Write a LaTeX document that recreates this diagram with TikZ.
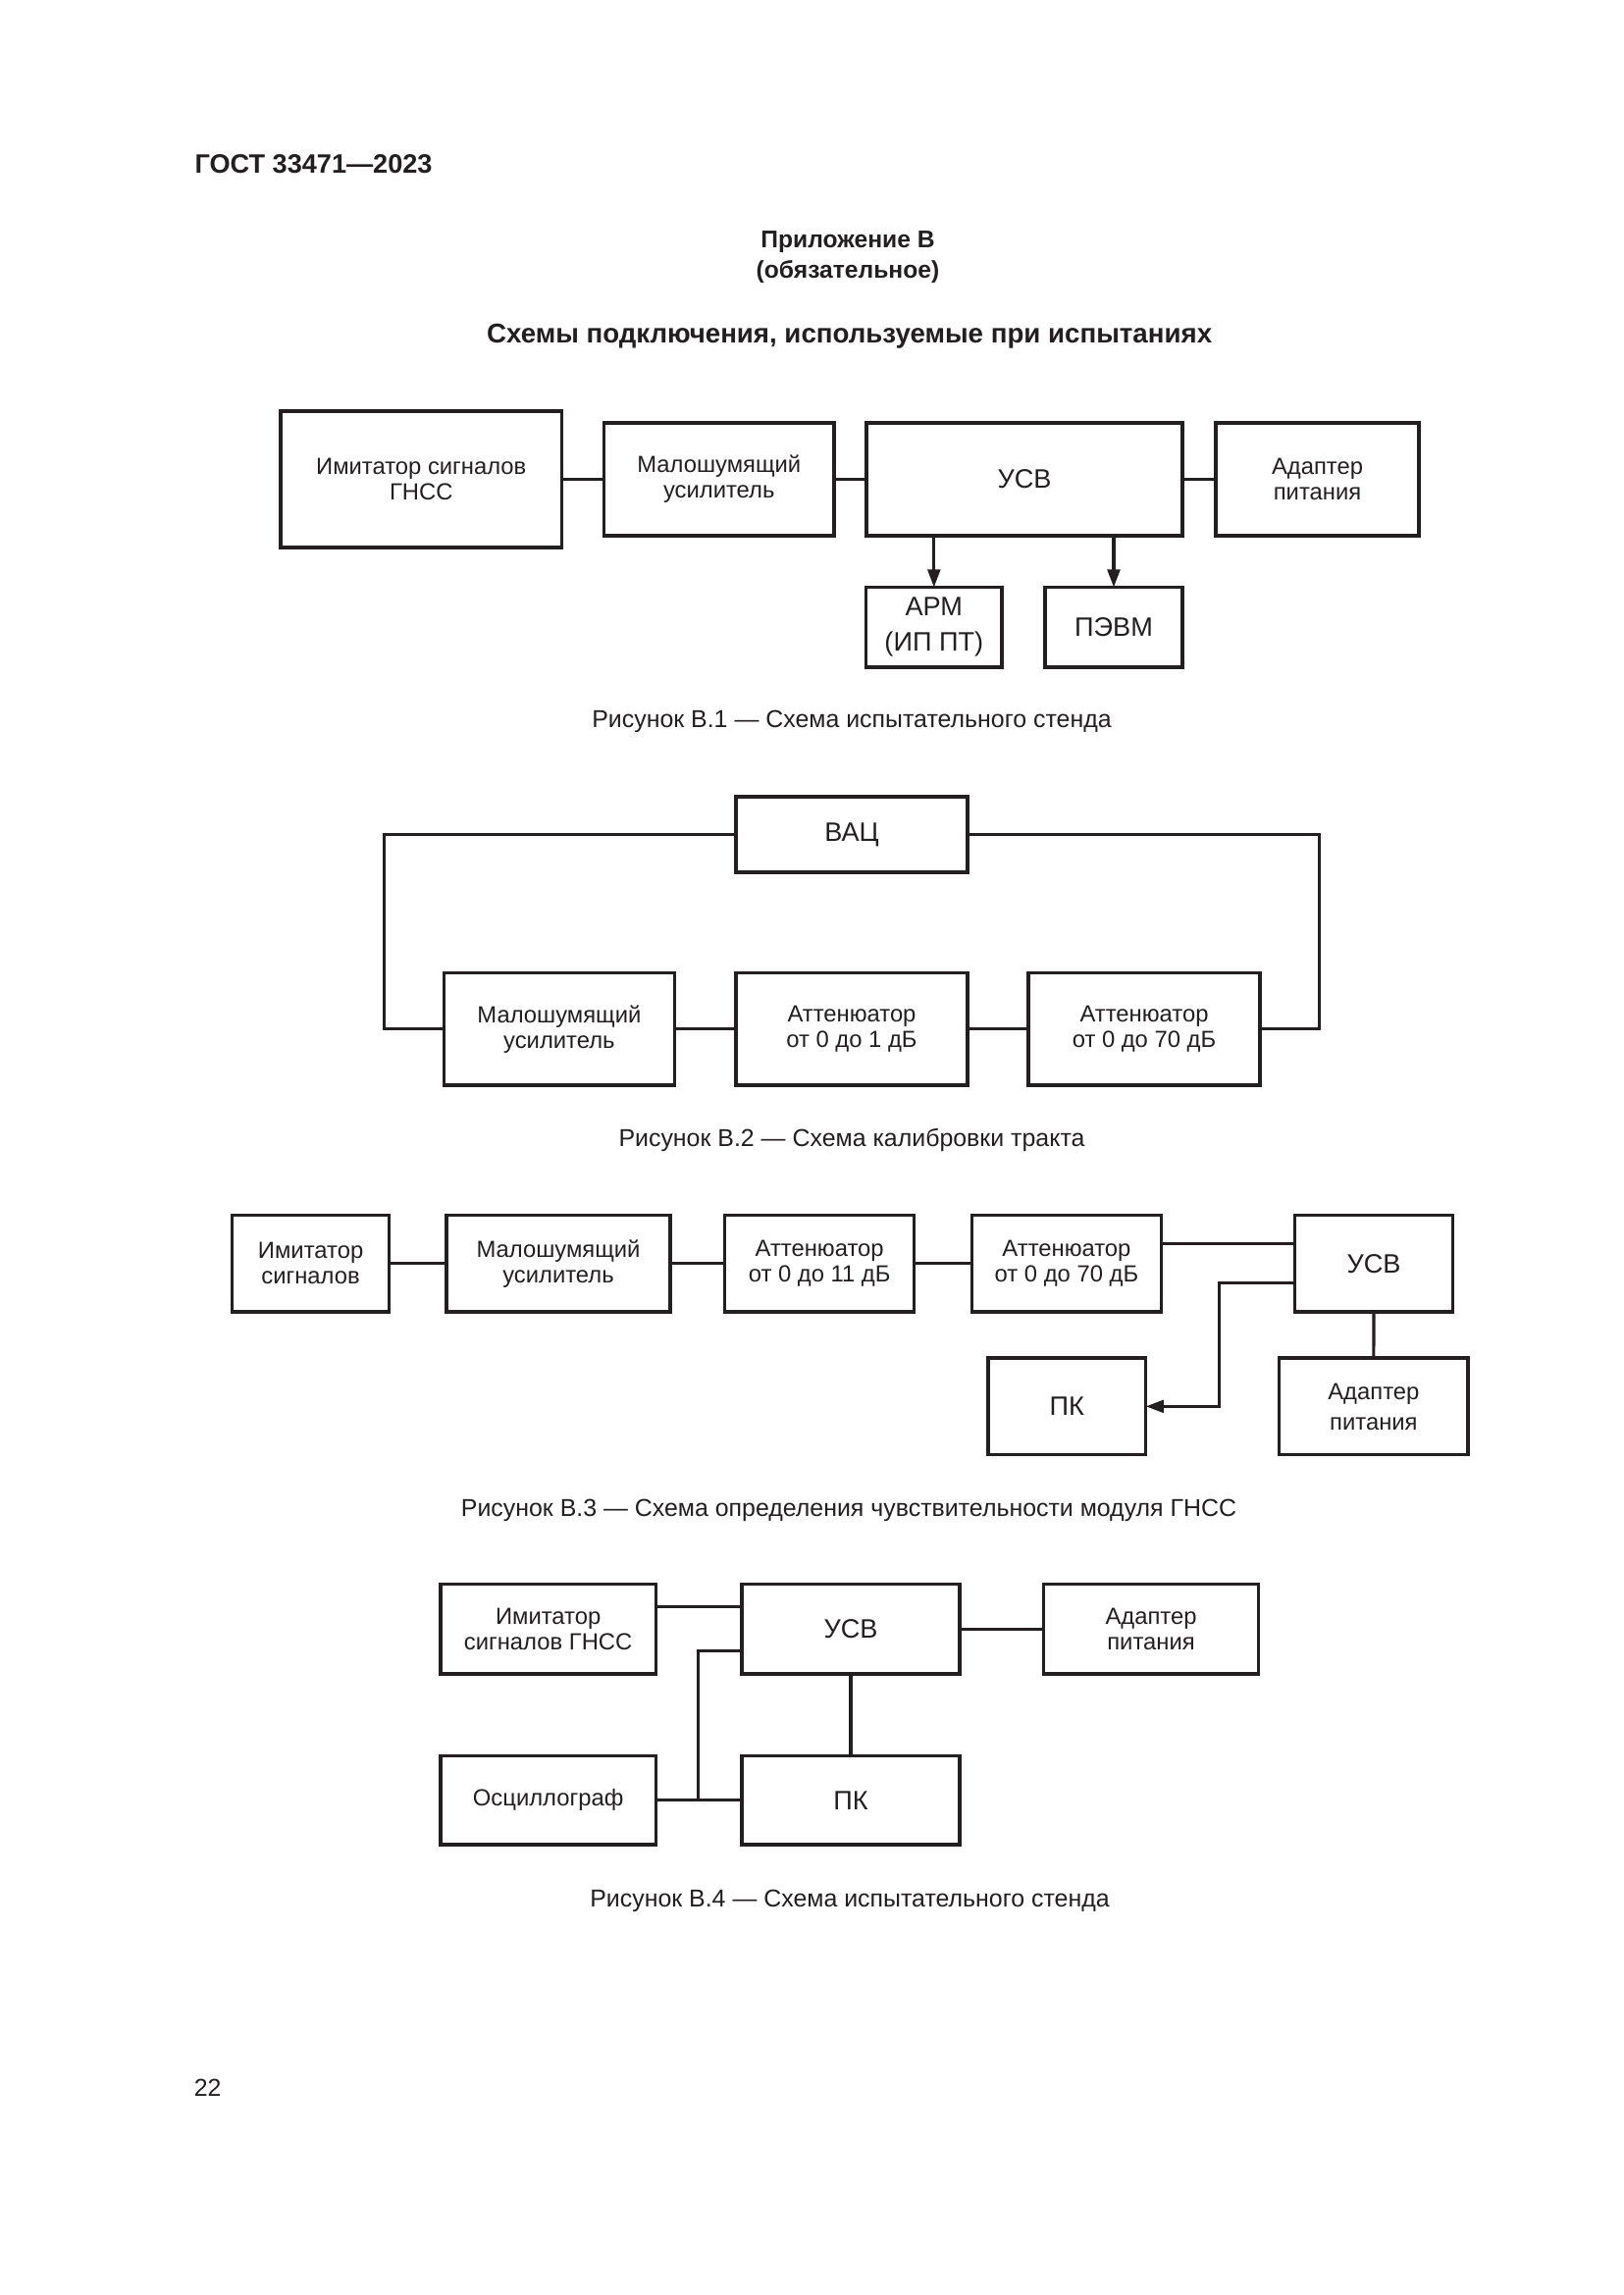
\documentclass[tikz,border=0pt]{standalone}
\usepackage{fontspec}
\setmainfont{Liberation Sans}
\usetikzlibrary{arrows.meta}
\def\pxu{0.12697mm}
\definecolor{ink}{RGB}{35,31,32}
\newcommand{\bx}[7][]{\node[blk,minimum width={(#5-#3)*\pxu},minimum height={(#6-#4)*\pxu},#1] (#2) at ({(#3+#5)/2},{(#4+#6)/2}) {#7};}
\begin{document}
\begin{tikzpicture}[x=\pxu,y=-\pxu,
  blk/.style={draw=ink,line width=1.15pt,inner sep=0pt,outer sep=0pt,align=center,text=ink,font=\fontsize{8.6}{9.4}\selectfont},
  bigtxt/.style={font=\fontsize{9.8}{11}\selectfont},
  wire/.style={draw=ink,line width=1.15pt},
  arr/.style={wire,-{Triangle[length=2.3mm,width=1.6mm]}},
  captxt/.style={anchor=base,text=ink,inner sep=0pt,font=\fontsize{9}{11}\selectfont},
  headtxt/.style={anchor=base,text=ink,inner sep=0pt,font=\bfseries\fontsize{8.9}{11}\selectfont}]
\useasboundingbox[fill=white] (0,0) rectangle (1654,2339);

% header
\node[headtxt,anchor=base west,font=\bfseries\fontsize{9.8}{12}\selectfont] (gost) at (198,177) {ГОСТ 33471—2023};
\node[headtxt] (app) at (864,253) {Приложение В};
\node[headtxt] (oblig) at (864,283.6) {(обязательное)};
\node[headtxt,font=\bfseries\fontsize{10}{12}\selectfont] (title) at (865.6,349) {Схемы подключения, используемые при испытаниях};

% Figure B.1
\bx{im1}{286}{419}{572.5}{558}{Имитатор сигналов\\ГНСС}
\bx{lna1}{615.5}{431}{850}{546}{Малошумящий\\усилитель}
\bx[bigtxt]{usv1}{883}{431}{1205}{546}{УСВ}
\bx{ad1}{1239}{431}{1446}{546}{Адаптер\\питания}
\bx[font=\fontsize{9.8}{13}\selectfont]{arm1}{882.6}{598.6}{1021}{680}{АРМ\\(ИП ПТ)}
\bx[bigtxt]{pevm1}{1065}{598.6}{1205}{680}{ПЭВМ}
\draw[wire] (im1.east) -- (lna1.west);
\draw[wire] (lna1.east) -- (usv1.west);
\draw[wire] (usv1.east) -- (ad1.west);
\draw[arr] (arm1.north |- usv1.south) -- (arm1.north);
\draw[arr] (pevm1.north |- usv1.south) -- (pevm1.north);
\node[captxt] (cap1) at (868,741.7) {Рисунок В.1 — Схема испытательного стенда};

% Figure B.2
\bx[bigtxt]{vac2}{750}{812}{986}{889}{ВАЦ}
\bx{lna2}{452.3}{991.7}{687.5}{1106}{Малошумящий\\усилитель}
\bx{att2a}{750}{991.7}{986}{1106}{Аттенюатор\\от 0 до 1 дБ}
\bx{att2b}{1048}{991.7}{1284}{1106}{Аттенюатор\\от 0 до 70 дБ}
\draw[wire] (vac2.west) -- (vac2.west -| 391.7,0) |- (lna2.west);
\draw[wire] (vac2.east) -- (vac2.east -| 1344.6,0) |- (att2b.east);
\draw[wire] (lna2.east) -- (att2a.west);
\draw[wire] (att2a.east) -- (att2b.west);
\node[captxt] (cap2) at (868,1168.3) {Рисунок В.2 — Схема калибровки тракта};

% Figure B.3
\bx{im3}{236.5}{1238.3}{396.7}{1337}{Имитатор\\сигналов}
\bx{lna3}{455}{1238.3}{683}{1337}{Малошумящий\\усилитель}
\bx{att3a}{738.6}{1238.3}{931.7}{1337}{Аттенюатор\\от 0 до 11 дБ}
\bx{att3b}{990.5}{1238.3}{1183.4}{1337}{Аттенюатор\\от 0 до 70 дБ}
\bx[bigtxt]{usv3}{1319.3}{1238.3}{1480.7}{1337}{УСВ}
\bx[bigtxt]{pk3}{1007}{1384}{1167.7}{1482.7}{ПК}
\bx[font=\fontsize{8.6}{11.2}\selectfont,text depth=-1.2mm]{ad3}{1303.7}{1384}{1496}{1482.7}{Адаптер\\питания}
\draw[wire] (im3.east) -- (lna3.west);
\draw[wire] (lna3.east) -- (att3a.west);
\draw[wire] (att3a.east) -- (att3b.west);
\draw[wire] (att3b.east |- 0,1267.3) -- (usv3.west |- 0,1267.3);
\draw[arr] (usv3.west |- 0,1307.3) -- (1242.7,1307.3) |- (pk3.east);
\draw[wire] (usv3.south) -- (ad3.north);
\node[captxt] (cap3) at (865,1545) {Рисунок В.3 — Схема определения чувствительности модуля ГНСС};

% Figure B.4
\bx{im4}{449}{1614.3}{668.3}{1706}{Имитатор\\сигналов ГНСС}
\bx[bigtxt]{usv4}{756}{1614.3}{978}{1706}{УСВ}
\bx{ad4}{1063.3}{1614.3}{1282.7}{1706}{Адаптер\\питания}
\bx{osc4}{449}{1789.3}{668.3}{1880}{Осциллограф}
\bx[bigtxt]{pk4}{756}{1789.3}{978}{1880}{ПК}
\draw[wire] (im4.east |- 0,1637.7) -- (usv4.west |- 0,1637.7);
\draw[wire] (usv4.east) -- (ad4.west);
\draw[wire] (osc4.east) -- (pk4.west);
\draw[wire] (usv4.west |- 0,1682.3) -| (711.7,1834.6);
\draw[wire] (usv4.south) -- (pk4.north);
\node[captxt] (cap4) at (866,1943.3) {Рисунок В.4 — Схема испытательного стенда};

% page number
\node[captxt,anchor=base west] (pg) at (197.3,2136) {22};
\end{tikzpicture}
\end{document}
